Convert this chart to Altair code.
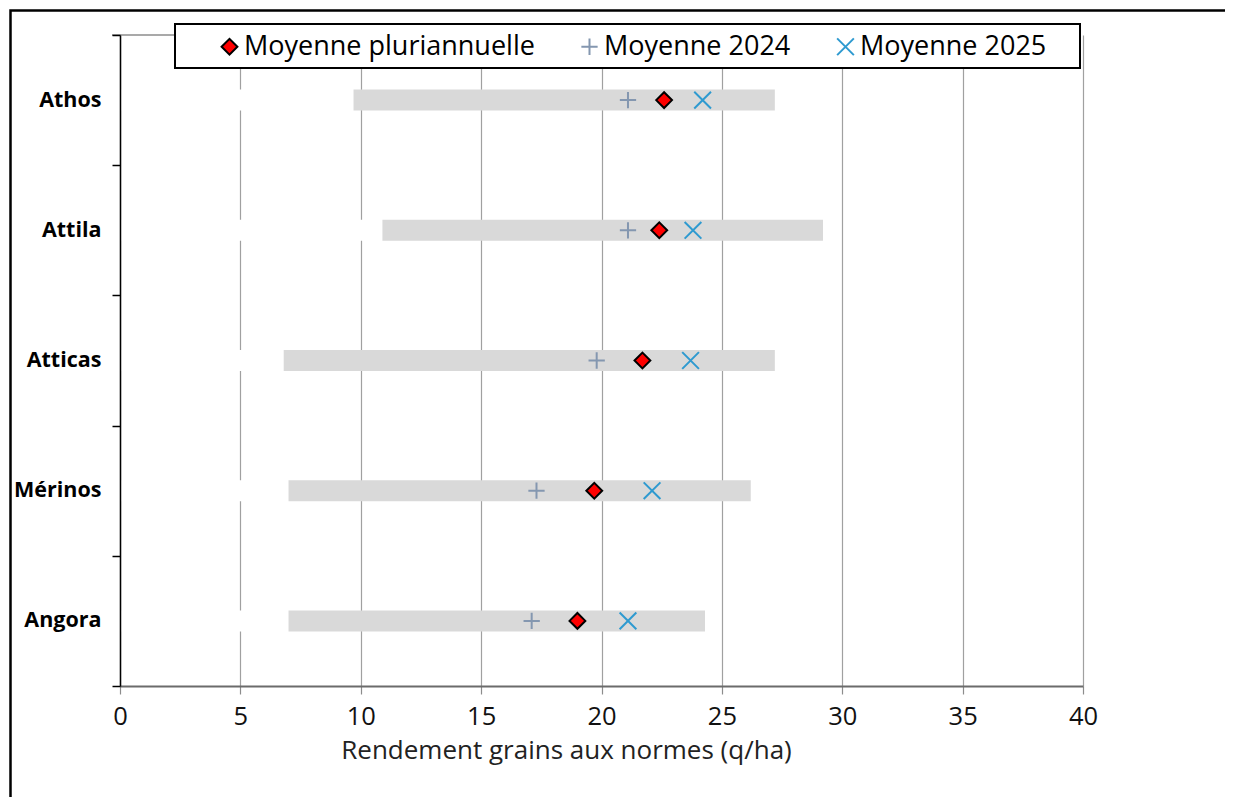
import altair as alt
import pandas as pd

varieties = ["Athos", "Attila", "Atticas", "Mérinos", "Angora"]
range_min = [9.7, 10.9, 6.8, 7.0, 7.0]
range_max = [27.2, 29.2, 27.2, 26.2, 24.3]
moy_pluri = [22.6, 22.4, 21.7, 19.7, 19.0]
moy_2024 = [21.1, 21.1, 19.8, 17.3, 17.1]
moy_2025 = [24.2, 23.8, 23.7, 22.1, 21.1]
series_names = ["Moyenne pluriannuelle", "Moyenne 2024", "Moyenne 2025"]
x_ticks = [0, 5, 10, 15, 20, 25, 30, 35, 40]

W, H = 963, 651
FONT = "Open Sans"

ranges = pd.DataFrame({"variete": varieties, "min": range_min, "max": range_max})
points = pd.DataFrame({
    "variete": varieties * 3,
    "serie": [s for s in series_names for _ in varieties],
    "valeur": moy_pluri + moy_2024 + moy_2025,
})
one = pd.DataFrame({"k": [0]})

x_scale = alt.Scale(domain=[0, 40], nice=False, zero=True)
y_axis = alt.Axis(
    title=None, tickBand="extent", tickSize=8, tickColor="#000000", tickWidth=1.5,
    domainColor="#000000", domainWidth=1.5, labelFont=FONT, labelFontSize=21.5,
    labelFontWeight="bold", labelColor="#000000", labelPadding=11, grid=False, zindex=1,
    labelLimit=0,
)
x_axis = alt.Axis(
    values=x_ticks, title="Rendement grains aux normes (q/ha)", titleFont=FONT,
    titleFontSize=26, titleFontWeight="normal", titleColor="#222222", titleX=446, titleY=51,
    labelFont=FONT, labelFontSize=25.5, labelColor="#111111", labelPadding=10, labelFlush=False,
    tickSize=8, tickColor="#8c8c8c", tickWidth=1.2, domainColor="#6b6b6b", domainWidth=2,
    grid=True, gridColor="#a0a0a0", gridWidth=1.2,
)
y_enc = alt.Y("variete:N", sort=varieties,
              scale=alt.Scale(paddingInner=0, paddingOuter=0), axis=y_axis)

border = alt.Chart(one).mark_rect(fillOpacity=0, stroke="#000000", strokeWidth=2.5).encode(
    x=alt.value(-109.5), x2=alt.value(1300), y=alt.value(-24.5), y2=alt.value(1000)
)

white_bars = alt.Chart(ranges).mark_bar(size=21, color="#ffffff").transform_calculate(
    zero="0"
).encode(
    x=alt.X("zero:Q", scale=x_scale, axis=x_axis),
    x2="min:Q",
    y=y_enc,
)
gray_bars = alt.Chart(ranges).mark_bar(size=21, color="#d9d9d9").encode(
    x=alt.X("min:Q", scale=x_scale, axis=x_axis),
    x2="max:Q",
    y=y_enc,
)

shapes = ["diamond", "M-1,0H1M0,-1V1", "M-1,-1L1,1M1,-1L-1,1"]
markers = alt.Chart(points).mark_point(filled=False, strokeWidth=2, opacity=1).encode(
    x=alt.X("valeur:Q", scale=x_scale, axis=x_axis),
    y=y_enc,
    shape=alt.Shape("serie:N", scale=alt.Scale(domain=series_names, range=shapes), legend=alt.Legend(title=None)),
    stroke=alt.Stroke("serie:N", scale=alt.Scale(domain=series_names, range=["#000000", "#8497b0", "#2e9ad0"]), legend=alt.Legend(title=None)),
    fill=alt.Fill("serie:N", scale=alt.Scale(domain=series_names, range=["#ff0000", "transparent", "transparent"]), legend=alt.Legend(title=None)),
    size=alt.Size("serie:N", scale=alt.Scale(domain=series_names, range=[250, 280, 310]), legend=alt.Legend(title=None)),
)

top_rule = alt.Chart(one).mark_rule(color="#8c8c8c", strokeWidth=1.5).encode(
    x=alt.value(-8), x2=alt.value(60), y=alt.value(0)
)
legend_box = alt.Chart(one).mark_rect(fill="#ffffff", stroke="#000000", strokeWidth=2).encode(
    x=alt.value(55), x2=alt.value(960), y=alt.value(-11), y2=alt.value(33)
)

chart = alt.layer(border, white_bars, gray_bars, markers, top_rule, legend_box).properties(
    width=W, height=H,
    autosize=alt.AutoSizeParams(type="none"),
    padding={"left": 112, "top": 27, "right": 142, "bottom": 111},
).configure_view(stroke=None).configure_legend(
    orient="none", legendX=96, legendY=-2, direction="horizontal",
    labelFont=FONT, labelFontSize=27, labelColor="#000000", labelOffset=1, labelLimit=0,
    columnPadding=41, symbolStrokeWidth=2, padding=0,
)

chart.save("out.html", embed_options={"renderer": "svg", "actions": False})
